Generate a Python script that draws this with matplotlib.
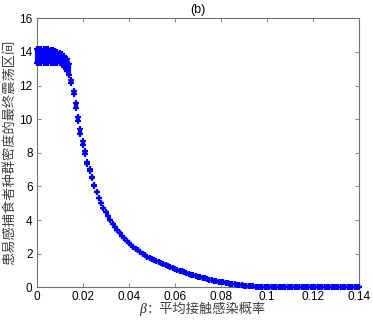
import numpy as np
import matplotlib
matplotlib.use("Agg")
from matplotlib import pyplot as plt

plt.rcParams['font.family'] = ['Liberation Sans', 'Noto Sans CJK SC']

# beta sweep, step 0.001 from 0 to 0.14
beta = np.round(np.arange(0, 141) * 0.001, 3)

# final oscillation interval for beta = 0.000 ... 0.026 (lower / upper end)
osc_low = [13.35, 13.33, 13.36, 13.34, 13.35, 13.33, 13.36, 13.34, 13.35, 13.35,
           13.33, 13.28, 13.12, 12.88, 12.65, 12.18, 11.48, 10.69, 9.90, 9.10,
           8.45, 7.91, 7.32, 6.92, 6.50, 6.05, 5.65]
osc_high = [14.15, 14.17, 14.16, 14.15, 14.16, 14.15, 14.13, 14.10, 14.05, 14.00,
            13.95, 13.88, 13.78, 13.60, 13.30, 12.34, 11.68, 10.99, 10.14, 9.40,
            8.71, 8.11, 7.47, 7.02, 6.55, 6.10, 5.65]

# single steady value for beta = 0.027 ... 0.140
steady = [5.30, 5.00, 4.72, 4.47, 4.23, 4.00, 3.79, 3.59, 3.40, 3.23, 3.07, 2.92, 2.77, 2.64,
          2.52, 2.40, 2.29, 2.19, 2.09, 2.00, 1.91, 1.83, 1.75, 1.68,
          1.61, 1.54, 1.48, 1.42, 1.36, 1.30, 1.25, 1.19, 1.14, 1.09,
          1.04, 0.99, 0.94, 0.89, 0.84, 0.80, 0.76, 0.72, 0.68, 0.64,
          0.60, 0.56, 0.53, 0.49, 0.46, 0.43, 0.40, 0.37, 0.34, 0.31,
          0.29, 0.26, 0.24, 0.22, 0.20, 0.18, 0.16, 0.14, 0.12, 0.10,
          0.09, 0.08, 0.06, 0.05, 0.04, 0.03, 0.02, 0.01, 0.01,
          0.0, 0.0, 0.0, 0.0, 0.0, 0.0, 0.0, 0.0, 0.0, 0.0,
          0.0, 0.0, 0.0, 0.0, 0.0, 0.0, 0.0, 0.0, 0.0, 0.0,
          0.0, 0.0, 0.0, 0.0, 0.0, 0.0, 0.0, 0.0, 0.0, 0.0,
          0.0, 0.0, 0.0, 0.0, 0.0, 0.0, 0.0, 0.0, 0.0, 0.0, 0.0]

xticks = [0, 0.02, 0.04, 0.06, 0.08, 0.1, 0.12, 0.14]
xticklabels = ['0', '0.02', '0.04', '0.06', '0.08', '0.1', '0.12', '0.14']
yticks = [0, 2, 4, 6, 8, 10, 12, 14, 16]

low = np.array(osc_low + steady)
high = np.array(osc_high + steady)

W, H = 373, 322
fig = plt.figure(figsize=(W / 100, H / 100), dpi=100)
ax = fig.add_axes([0.0984, 0.1078, 0.8645, 0.8354])

blue = '#0000ff'
ax.vlines(beta, low, high, colors=blue, lw=3.0, clip_on=False, zorder=3)
ax.plot(beta, low, '+', color=blue, ms=4.5, mew=1.6, clip_on=False, zorder=3)
ax.plot(beta, high, '+', color=blue, ms=4.5, mew=1.6, clip_on=False, zorder=3)

ax.set_xlim(0, 0.14)
ax.set_ylim(0, 16)
ax.set_xticks(xticks)
ax.set_xticklabels(xticklabels)
ax.set_yticks(yticks)
ax.tick_params(direction='in', length=3, width=0.6, color='0.45', labelsize=8.5,
               top=True, right=True, pad=3)
for s in ax.spines.values():
    s.set_color('0.45')
    s.set_linewidth(0.8)

ax.set_title('(b)', fontsize=9, pad=4)
ax.set_ylabel('患易感捕食者种群密度的最终震荡区间', fontsize=9.5,
              family=['Noto Sans CJK SC'], color='0.25')
ax.yaxis.set_label_coords(-0.065, 0.5)

# x label: italic beta followed by the Chinese text
fig.text(139 / W, 1 - 309 / H, 'β', fontsize=10, style='italic',
         family=['Liberation Serif'], color='0.15', ha='left', va='center')
fig.text(147 / W, 1 - 309 / H, '：平均接触感染概率', fontsize=9.5,
         family=['Noto Sans CJK SC'], color='0.25', ha='left', va='center')

plt.savefig('out.png', dpi=100)
